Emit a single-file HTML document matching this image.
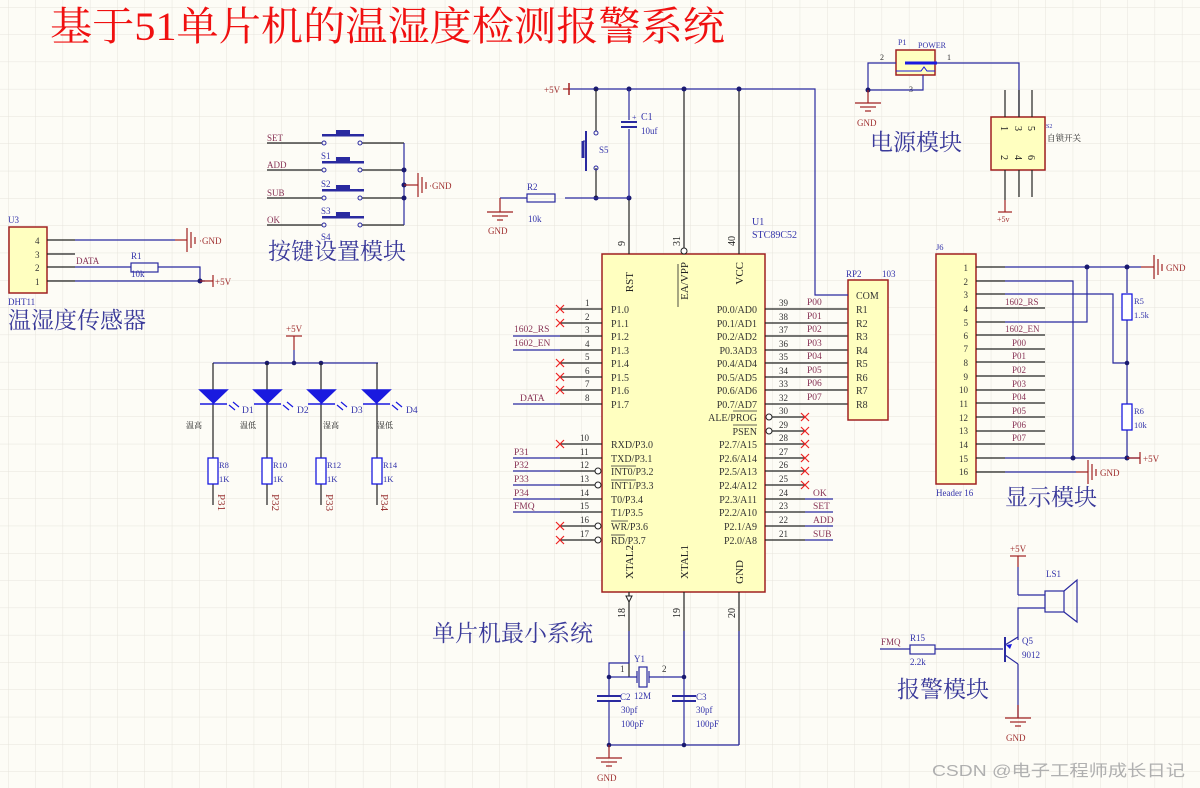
<!DOCTYPE html>
<html><head><meta charset="utf-8"><style>
html,body{margin:0;padding:0;background:#fdfcf6;}
svg{display:block;}
text{font-family:"Liberation Serif","Noto Serif CJK SC",serif;}
.cjk{font-family:"Liberation Serif","Noto Serif CJK SC",serif;}
</style></head><body>
<svg width="1200" height="788" viewBox="0 0 1200 788" xmlns="http://www.w3.org/2000/svg">
<defs>
<pattern id="g" x="8" y="7" width="27.3" height="27.3" patternUnits="userSpaceOnUse">
<path d="M0 0V27.3M0 0H27.3" stroke="#e6e4dc" stroke-width="1" fill="none"/>
</pattern>
</defs>
<rect width="1200" height="788" fill="#fdfcf6"/>
<rect width="1200" height="788" fill="url(#g)"/>

<!-- Title -->
<text x="50" y="40" font-size="40" fill="#f01010" textLength="675" lengthAdjust="spacingAndGlyphs">基于51单片机的温湿度检测报警系统</text>

<!-- ===== MCU ===== -->
<rect x="602" y="254" width="163" height="338" fill="#ffffc0" stroke="#a02020" stroke-width="1.5"/>
<g font-size="10" fill="#222" text-anchor="middle">
<text transform="translate(633,272) rotate(-90)" font-size="11" text-anchor="end">RST</text>
<text transform="translate(688,262) rotate(-90)" font-size="11" text-anchor="end">EA/VPP</text>
<text transform="translate(743,262) rotate(-90)" font-size="11" text-anchor="end">VCC</text>
<text transform="translate(633,545) rotate(-90)" font-size="11" text-anchor="end">XTAL2</text>
<text transform="translate(688,545) rotate(-90)" font-size="11" text-anchor="end">XTAL1</text>
<text transform="translate(743,560) rotate(-90)" font-size="11" text-anchor="end">GND</text>
</g>
<line x1="678" y1="264" x2="678" y2="307" stroke="#222" stroke-width="0.8"/>
<g stroke="#222" stroke-width="1.2">
<line x1="629" y1="198" x2="629" y2="254"/><line x1="684" y1="89" x2="684" y2="248"/><line x1="739" y1="89" x2="739" y2="254"/>
<line x1="629" y1="592" x2="629" y2="677"/><line x1="684" y1="592" x2="684" y2="677"/><line x1="739" y1="592" x2="739" y2="745"/>
</g>
<circle cx="684" cy="251" r="3" fill="#fff" stroke="#222"/>
<g font-size="10" fill="#222">
<text transform="translate(625,246) rotate(-90)">9</text>
<text transform="translate(680,246) rotate(-90)">31</text>
<text transform="translate(735,246) rotate(-90)">40</text>
<text transform="translate(625,618) rotate(-90)">18</text>
<text transform="translate(680,618) rotate(-90)">19</text>
<text transform="translate(735,618) rotate(-90)">20</text>
</g>
<text x="752" y="225" font-size="10" fill="#3333aa">U1</text>
<text x="752" y="238" font-size="10" fill="#3333aa">STC89C52</text>

<!-- left pins -->
<g stroke="#222" stroke-width="1.2">
<line x1="560" y1="309" x2="602" y2="309"/><line x1="560" y1="323" x2="602" y2="323"/>
<line x1="560" y1="336" x2="602" y2="336"/><line x1="560" y1="350" x2="602" y2="350"/>
<line x1="560" y1="363" x2="602" y2="363"/><line x1="560" y1="377" x2="602" y2="377"/>
<line x1="560" y1="390" x2="602" y2="390"/><line x1="560" y1="404" x2="602" y2="404"/>
<line x1="560" y1="444" x2="602" y2="444"/><line x1="560" y1="458" x2="602" y2="458"/>
<line x1="560" y1="471" x2="598" y2="471"/><line x1="560" y1="485" x2="598" y2="485"/>
<line x1="560" y1="499" x2="602" y2="499"/><line x1="560" y1="512" x2="602" y2="512"/>
<line x1="560" y1="526" x2="598" y2="526"/><line x1="560" y1="540" x2="598" y2="540"/>
</g>
<g fill="#fff" stroke="#222"><circle cx="598" cy="471" r="3"/><circle cx="598" cy="485" r="3"/><circle cx="598" cy="526" r="3"/><circle cx="598" cy="540" r="3"/></g>
<g font-size="9" fill="#333">
<text x="585" y="306">1</text><text x="585" y="320">2</text><text x="585" y="333">3</text><text x="585" y="347">4</text>
<text x="585" y="360">5</text><text x="585" y="374">6</text><text x="585" y="387">7</text><text x="585" y="401">8</text>
<text x="580" y="441">10</text><text x="580" y="455">11</text><text x="580" y="468">12</text><text x="580" y="482">13</text>
<text x="580" y="496">14</text><text x="580" y="509">15</text><text x="580" y="523">16</text><text x="580" y="537">17</text>
</g>
<g font-size="10" fill="#333">
<text x="611" y="313">P1.0</text><text x="611" y="327">P1.1</text><text x="611" y="340">P1.2</text><text x="611" y="354">P1.3</text>
<text x="611" y="367">P1.4</text><text x="611" y="381">P1.5</text><text x="611" y="394">P1.6</text><text x="611" y="408">P1.7</text>
<text x="611" y="448">RXD/P3.0</text><text x="611" y="462">TXD/P3.1</text><text x="611" y="475">INT0/P3.2</text><text x="611" y="489">INT1/P3.3</text>
<text x="611" y="503">T0/P3.4</text><text x="611" y="516">T1/P3.5</text><text x="611" y="530">WR/P3.6</text><text x="611" y="544">RD/P3.7</text>
</g>
<g stroke="#333" stroke-width="0.8"><line x1="611" y1="466" x2="636" y2="466"/><line x1="611" y1="480" x2="636" y2="480"/><line x1="611" y1="521" x2="628" y2="521"/><line x1="611" y1="535" x2="625" y2="535"/></g>
<g stroke="#ee2222" stroke-width="1.2">
<path d="M556 305l8 8M564 305l-8 8M556 319l8 8M564 319l-8 8M556 359l8 8M564 359l-8 8M556 373l8 8M564 373l-8 8M556 386l8 8M564 386l-8 8M556 440l8 8M564 440l-8 8M556 522l8 8M564 522l-8 8M556 536l8 8M564 536l-8 8"/>
</g>
<g stroke="#2a2aa0" stroke-width="1.2">
<line x1="513" y1="336" x2="560" y2="336"/><line x1="513" y1="350" x2="560" y2="350"/>
<line x1="513" y1="404" x2="560" y2="404"/><line x1="513" y1="458" x2="560" y2="458"/>
<line x1="513" y1="471" x2="560" y2="471"/><line x1="513" y1="485" x2="560" y2="485"/>
<line x1="513" y1="499" x2="560" y2="499"/><line x1="513" y1="512" x2="560" y2="512"/>
</g>
<g font-size="9.5" fill="#883355">
<text x="514" y="332">1602_RS</text><text x="514" y="346">1602_EN</text><text x="520" y="401">DATA</text>
<text x="514" y="455">P31</text><text x="514" y="468">P32</text><text x="514" y="482">P33</text><text x="514" y="496">P34</text><text x="514" y="509">FMQ</text>
</g>

<!-- right pins -->
<g stroke="#222" stroke-width="1.2">
<line x1="765" y1="309" x2="848" y2="309"/><line x1="765" y1="323" x2="848" y2="323"/>
<line x1="765" y1="336" x2="848" y2="336"/><line x1="765" y1="350" x2="848" y2="350"/>
<line x1="765" y1="363" x2="848" y2="363"/><line x1="765" y1="377" x2="848" y2="377"/>
<line x1="765" y1="390" x2="848" y2="390"/><line x1="765" y1="404" x2="848" y2="404"/>
<line x1="771" y1="417" x2="805" y2="417"/><line x1="771" y1="431" x2="805" y2="431"/>
<line x1="765" y1="444" x2="805" y2="444"/><line x1="765" y1="458" x2="805" y2="458"/>
<line x1="765" y1="471" x2="805" y2="471"/><line x1="765" y1="485" x2="805" y2="485"/>
<line x1="765" y1="499" x2="805" y2="499"/><line x1="765" y1="512" x2="805" y2="512"/>
<line x1="765" y1="526" x2="805" y2="526"/><line x1="765" y1="540" x2="805" y2="540"/>
</g>
<g fill="#fff" stroke="#222"><circle cx="769" cy="417" r="3"/><circle cx="769" cy="431" r="3"/></g>
<g stroke="#2a2aa0" stroke-width="1.2">
<line x1="805" y1="499" x2="833" y2="499"/><line x1="805" y1="512" x2="833" y2="512"/><line x1="805" y1="526" x2="833" y2="526"/><line x1="805" y1="540" x2="833" y2="540"/>
</g>
<g stroke="#ee2222" stroke-width="1.2">
<path d="M801 413l8 8M809 413l-8 8M801 427l8 8M809 427l-8 8M801 440l8 8M809 440l-8 8M801 454l8 8M809 454l-8 8M801 467l8 8M809 467l-8 8M801 481l8 8M809 481l-8 8"/>
</g>
<g font-size="9" fill="#333">
<text x="779" y="306">39</text><text x="779" y="320">38</text><text x="779" y="333">37</text><text x="779" y="347">36</text>
<text x="779" y="360">35</text><text x="779" y="374">34</text><text x="779" y="387">33</text><text x="779" y="401">32</text>
<text x="779" y="414">30</text><text x="779" y="428">29</text><text x="779" y="441">28</text><text x="779" y="455">27</text>
<text x="779" y="468">26</text><text x="779" y="482">25</text><text x="779" y="496">24</text><text x="779" y="509">23</text>
<text x="779" y="523">22</text><text x="779" y="537">21</text>
</g>
<g font-size="10" fill="#333" text-anchor="end">
<text x="757" y="313">P0.0/AD0</text><text x="757" y="327">P0.1/AD1</text><text x="757" y="340">P0.2/AD2</text><text x="757" y="354">P0.3AD3</text>
<text x="757" y="367">P0.4/AD4</text><text x="757" y="381">P0.5/AD5</text><text x="757" y="394">P0.6/AD6</text><text x="757" y="408">P0.7/AD7</text>
<text x="757" y="421">ALE/PROG</text><text x="757" y="435">PSEN</text>
<text x="757" y="448">P2.7/A15</text><text x="757" y="462">P2.6/A14</text><text x="757" y="475">P2.5/A13</text><text x="757" y="489">P2.4/A12</text>
<text x="757" y="503">P2.3/A11</text><text x="757" y="516">P2.2/A10</text><text x="757" y="530">P2.1/A9</text><text x="757" y="544">P2.0/A8</text>
</g>
<g stroke="#333" stroke-width="0.8"><line x1="733" y1="411" x2="757" y2="411"/><line x1="733" y1="425" x2="757" y2="425"/></g>
<g font-size="9.5" fill="#883355">
<text x="807" y="305">P00</text><text x="807" y="319">P01</text><text x="807" y="332">P02</text><text x="807" y="346">P03</text>
<text x="807" y="359">P04</text><text x="807" y="373">P05</text><text x="807" y="386">P06</text><text x="807" y="400">P07</text>
<text x="813" y="496">OK</text><text x="813" y="509">SET</text><text x="813" y="523">ADD</text><text x="813" y="537">SUB</text>
</g>

<!-- RP2 -->
<rect x="848" y="280" width="40" height="140" fill="#ffffc0" stroke="#a02020" stroke-width="1.5"/>
<g font-size="10" fill="#333">
<text x="856" y="299">COM</text><text x="856" y="313">R1</text><text x="856" y="327">R2</text><text x="856" y="340">R3</text>
<text x="856" y="354">R4</text><text x="856" y="367">R5</text><text x="856" y="381">R6</text><text x="856" y="394">R7</text><text x="856" y="408">R8</text>
</g>
<text x="846" y="277" font-size="9" fill="#3333aa">RP2</text><text x="882" y="277" font-size="9" fill="#3333aa">103</text>
<polyline points="570,89 815,89 815,295 848,295" fill="none" stroke="#2a2aa0" stroke-width="1.2"/>

<!-- top power/reset -->
<line x1="563" y1="89" x2="570" y2="89" stroke="#a02020" stroke-width="1.2"/>
<line x1="569" y1="83" x2="569" y2="95" stroke="#a02020" stroke-width="1.5"/>
<text x="544" y="93" font-size="9" fill="#a03030">+5V</text>
<g fill="#1a1a70"><circle cx="596" cy="89" r="2.5"/><circle cx="629" cy="89" r="2.5"/><circle cx="684" cy="89" r="2.5"/><circle cx="739" cy="89" r="2.5"/><circle cx="596" cy="198" r="2.5"/><circle cx="629" cy="198" r="2.5"/></g>
<g stroke="#222" stroke-width="1.2"><line x1="596" y1="89" x2="596" y2="131"/><line x1="596" y1="168" x2="596" y2="198"/></g>
<g stroke="#2a2aa0" stroke-width="1.2" fill="none">
<circle cx="596" cy="133" r="2" stroke-width="1"/><circle cx="596" cy="168" r="2" stroke-width="1"/>
<line x1="586" y1="131" x2="586" y2="171" stroke-width="2"/><line x1="586" y1="141" x2="583" y2="141" stroke-width="1"/>
<line x1="583" y1="141" x2="583" y2="158" stroke-width="3"/>
<line x1="629" y1="89" x2="629" y2="120"/><line x1="621" y1="122" x2="637" y2="122" stroke-width="2"/>
<line x1="621" y1="127" x2="637" y2="127" stroke-width="2"/><line x1="629" y1="129" x2="629" y2="198"/>
<line x1="565" y1="198" x2="629" y2="198"/>
<rect x="527" y="194" width="28" height="8"/><line x1="500" y1="198" x2="527" y2="198"/>
</g>
<text x="632" y="120" font-size="8" fill="#3333aa">+</text>
<text x="641" y="120" font-size="10" fill="#3333aa">C1</text><text x="641" y="134" font-size="9" fill="#3333aa">10uf</text>
<text x="599" y="153" font-size="9" fill="#3333aa">S5</text>
<text x="527" y="190" font-size="9" fill="#3333aa">R2</text><text x="528" y="222" font-size="9" fill="#3333aa">10k</text>
<g stroke="#a02020" stroke-width="1.2"><line x1="500" y1="198" x2="500" y2="212"/><line x1="487" y1="212" x2="513" y2="212"/><line x1="492" y1="216" x2="508" y2="216"/><line x1="497" y1="220" x2="503" y2="220"/></g>
<text x="488" y="234" font-size="9" fill="#a03030">GND</text>

<!-- ===== Buttons ===== -->
<g stroke="#222" stroke-width="1.2">
<line x1="267" y1="143" x2="322" y2="143"/><line x1="267" y1="170" x2="322" y2="170"/><line x1="267" y1="198" x2="322" y2="198"/><line x1="267" y1="225" x2="322" y2="225"/>
<line x1="362" y1="143" x2="404" y2="143"/><line x1="362" y1="170" x2="404" y2="170"/><line x1="362" y1="198" x2="404" y2="198"/><line x1="362" y1="225" x2="404" y2="225"/>
</g>
<g fill="none" stroke="#2a2aa0" stroke-width="1">
<circle cx="324" cy="143" r="2"/><circle cx="360" cy="143" r="2"/><circle cx="324" cy="170" r="2"/><circle cx="360" cy="170" r="2"/>
<circle cx="324" cy="198" r="2"/><circle cx="360" cy="198" r="2"/><circle cx="324" cy="225" r="2"/><circle cx="360" cy="225" r="2"/>
</g>
<g fill="#2a2aa0">
<rect x="322" y="134" width="42" height="2.5"/><rect x="336" y="130" width="14" height="5"/>
<rect x="322" y="161" width="42" height="2.5"/><rect x="336" y="157" width="14" height="5"/>
<rect x="322" y="189" width="42" height="2.5"/><rect x="336" y="185" width="14" height="5"/>
<rect x="322" y="216" width="42" height="2.5"/><rect x="336" y="212" width="14" height="5"/>
</g>
<polyline points="404,143 404,225" stroke="#2a2aa0" stroke-width="1.2"/>
<g fill="#1a1a70"><circle cx="404" cy="170" r="2.5"/><circle cx="404" cy="185" r="2.5"/><circle cx="404" cy="198" r="2.5"/></g>
<g stroke="#a02020" stroke-width="1.2"><line x1="404" y1="185" x2="418" y2="185"/><line x1="418" y1="173" x2="418" y2="197"/><line x1="422" y1="177" x2="422" y2="193"/><line x1="426" y1="182" x2="426" y2="189"/></g>
<text x="429" y="189" font-size="9" fill="#a03030">·GND</text>
<g font-size="9" fill="#883355"><text x="267" y="141">SET</text><text x="267" y="168">ADD</text><text x="267" y="196">SUB</text><text x="267" y="223">OK</text></g>
<g font-size="9" fill="#3333aa"><text x="321" y="159">S1</text><text x="321" y="187">S2</text><text x="321" y="214">S3</text><text x="321" y="240">S4</text></g>
<text x="268" y="259" font-size="23" fill="#3a3a9a" class="cjk">按键设置模块</text>

<!-- ===== DHT11 ===== -->
<rect x="9" y="227" width="38" height="66" fill="#ffffc0" stroke="#a02020" stroke-width="1.5"/>
<g font-size="9" fill="#333"><text x="35" y="244">4</text><text x="35" y="258">3</text><text x="35" y="271">2</text><text x="35" y="285">1</text></g>
<text x="8" y="223" font-size="9" fill="#3333aa">U3</text>
<text x="8" y="305" font-size="9" fill="#3333aa">DHT11</text>
<g stroke="#222" stroke-width="1.2"><line x1="47" y1="240" x2="75" y2="240"/><line x1="47" y1="254" x2="75" y2="254"/><line x1="47" y1="267" x2="75" y2="267"/><line x1="47" y1="281" x2="75" y2="281"/></g>
<g stroke="#2a2aa0" stroke-width="1.2" fill="none">
<line x1="75" y1="240" x2="175" y2="240"/><line x1="75" y1="267" x2="131" y2="267"/><rect x="131" y="263" width="27" height="9"/>
<polyline points="158,267 200,267 200,281"/><line x1="75" y1="281" x2="205" y2="281"/>
</g>
<circle cx="200" cy="281" r="2.5" fill="#1a1a70"/>
<g stroke="#a02020" stroke-width="1.2"><line x1="175" y1="240" x2="187" y2="240"/><line x1="187" y1="228" x2="187" y2="252"/><line x1="191" y1="232" x2="191" y2="248"/><line x1="195" y1="237" x2="195" y2="244"/>
<line x1="200" y1="281" x2="213" y2="281"/><line x1="213" y1="275" x2="213" y2="287"/></g>
<text x="199" y="244" font-size="9" fill="#a03030">·GND</text><text x="215" y="285" font-size="9" fill="#a03030">+5V</text>
<text x="76" y="264" font-size="9" fill="#883355">DATA</text>
<text x="131" y="259" font-size="9" fill="#3333aa">R1</text><text x="131" y="277" font-size="9" fill="#3333aa">10k</text>
<text x="8" y="328" font-size="23" fill="#3a3a9a" class="cjk">温湿度传感器</text>

<!-- ===== LEDs ===== -->
<g stroke="#a02020" stroke-width="1.2"><line x1="286" y1="336" x2="302" y2="336"/><line x1="294" y1="336" x2="294" y2="350"/></g>
<text x="286" y="332" font-size="9" fill="#a03030">+5V</text>
<g stroke="#2a2aa0" stroke-width="1.2" fill="none">
<line x1="294" y1="350" x2="294" y2="363"/><line x1="213" y1="363" x2="378" y2="363"/>
</g>
<g fill="#1a1a70"><circle cx="267" cy="363" r="2.3"/><circle cx="294" cy="363" r="2.3"/><circle cx="321" cy="363" r="2.3"/></g>
<g stroke="#222" stroke-width="1.2">
<line x1="213" y1="363" x2="213" y2="505"/><line x1="267" y1="363" x2="267" y2="505"/><line x1="321" y1="363" x2="321" y2="505"/><line x1="377" y1="363" x2="377" y2="505"/>
</g>
<g fill="#1a1adf" stroke="#1a1adf" stroke-width="1.5">
<path d="M200 390h27l-13.5 13z"/><line x1="200" y1="404" x2="227" y2="404"/>
<path d="M254 390h27l-13.5 13z"/><line x1="254" y1="404" x2="281" y2="404"/>
<path d="M308 390h27l-13.5 13z"/><line x1="308" y1="404" x2="335" y2="404"/>
<path d="M363 390h27l-13.5 13z"/><line x1="363" y1="404" x2="390" y2="404"/>
</g>
<g stroke="#1a1adf" stroke-width="1.2">
<path d="M229 405l6 5M233 402l6 5M283 405l6 5M287 402l6 5M337 405l6 5M341 402l6 5M392 405l6 5M396 402l6 5"/>
</g>
<g font-size="9.5" fill="#3333aa"><text x="242" y="413">D1</text><text x="297" y="413">D2</text><text x="351" y="413">D3</text><text x="406" y="413">D4</text></g>
<g font-size="8" fill="#222" class="cjk"><text x="186" y="428">温高</text><text x="240" y="428">温低</text><text x="323" y="428">湿高</text><text x="377" y="428">湿低</text></g>
<g fill="#fff" stroke="#1a1adf" stroke-width="1.3">
<rect x="208" y="458" width="10" height="26"/><rect x="262" y="458" width="10" height="26"/><rect x="316" y="458" width="10" height="26"/><rect x="372" y="458" width="10" height="26"/>
</g>
<g font-size="8.5" fill="#3333aa"><text x="219" y="468">R8</text><text x="219" y="482">1K</text><text x="273" y="468">R10</text><text x="273" y="482">1K</text>
<text x="327" y="468">R12</text><text x="327" y="482">1K</text><text x="383" y="468">R14</text><text x="383" y="482">1K</text></g>
<g font-size="11" fill="#993333">
<text transform="translate(218,494) rotate(90)">P31</text><text transform="translate(272,494) rotate(90)">P32</text>
<text transform="translate(326,494) rotate(90)">P33</text><text transform="translate(381,494) rotate(90)">P34</text>
</g>

<!-- ===== Power module ===== -->
<rect x="896" y="50" width="39" height="25" fill="#ffffc0" stroke="#a02020" stroke-width="1.5"/>
<line x1="905" y1="63" x2="937" y2="63" stroke="#1a1adf" stroke-width="3"/>
<polyline points="896,71 921,71 924,67 927,71 935,71" fill="none" stroke="#1a1adf" stroke-width="1"/>
<text x="898" y="45" font-size="8" fill="#3333aa">P1</text><text x="918" y="48" font-size="8" fill="#3333aa">POWER</text>
<text x="880" y="60" font-size="8" fill="#333">2</text><text x="947" y="60" font-size="8" fill="#333">1</text><text x="909" y="92" font-size="8" fill="#333">3</text>
<g stroke="#2a2aa0" stroke-width="1.2" fill="none">
<polyline points="896,63 868,63 868,90 923,90 923,75"/>
<polyline points="937,63 1019,63 1019,117"/>
</g>
<circle cx="868" cy="90" r="2.5" fill="#1a1a70"/>
<g stroke="#a02020" stroke-width="1.2"><line x1="868" y1="90" x2="868" y2="103"/><line x1="855" y1="103" x2="881" y2="103"/><line x1="860" y1="107" x2="876" y2="107"/><line x1="865" y1="111" x2="871" y2="111"/></g>
<text x="857" y="126" font-size="9" fill="#a03030">GND</text>
<rect x="991" y="117" width="54" height="53" fill="#ffffc0" stroke="#a02020" stroke-width="1.5"/>
<g stroke="#222" stroke-width="1.2"><line x1="1005" y1="90" x2="1005" y2="117"/><line x1="1019" y1="117" x2="1019" y2="90"/><line x1="1032" y1="90" x2="1032" y2="117"/>
<line x1="1005" y1="170" x2="1005" y2="200"/><line x1="1019" y1="170" x2="1019" y2="197"/><line x1="1032" y1="170" x2="1032" y2="197"/></g>
<g font-size="10" fill="#222">
<text transform="translate(1001,126) rotate(90)">1</text><text transform="translate(1015,126) rotate(90)">3</text><text transform="translate(1028,126) rotate(90)">5</text>
<text transform="translate(1001,155) rotate(90)">2</text><text transform="translate(1015,155) rotate(90)">4</text><text transform="translate(1028,155) rotate(90)">6</text>
</g>
<text x="1046" y="128" font-size="6" fill="#3333aa">S2</text>
<text x="1047" y="141" font-size="8.5" fill="#222" class="cjk">自锁开关</text>
<g stroke="#a02020" stroke-width="1.2"><line x1="1005" y1="200" x2="1005" y2="212"/><line x1="998" y1="212" x2="1012" y2="212"/></g>
<text x="997" y="222" font-size="8" fill="#a03030">+5v</text>
<text x="870" y="150" font-size="23" fill="#3a3a9a" class="cjk">电源模块</text>

<!-- ===== J6 ===== -->
<rect x="936" y="254" width="40" height="230" fill="#ffffc0" stroke="#a02020" stroke-width="1.5"/>
<g font-size="9" fill="#333" text-anchor="end">
<text x="968" y="271">1</text><text x="968" y="285">2</text><text x="968" y="298">3</text><text x="968" y="312">4</text>
<text x="968" y="326">5</text><text x="968" y="339">6</text><text x="968" y="352">7</text><text x="968" y="366">8</text>
<text x="968" y="380">9</text><text x="968" y="393">10</text><text x="968" y="407">11</text><text x="968" y="421">12</text>
<text x="968" y="434">13</text><text x="968" y="448">14</text><text x="968" y="462">15</text><text x="968" y="475">16</text>
</g>
<text x="936" y="250" font-size="8.5" fill="#3333aa">J6</text>
<text x="936" y="496" font-size="9" fill="#3333aa">Header 16</text>
<g stroke="#222" stroke-width="1.2">
<line x1="976" y1="267" x2="1005" y2="267"/><line x1="976" y1="281" x2="1005" y2="281"/><line x1="976" y1="294" x2="1005" y2="294"/>
<line x1="976" y1="308" x2="1045" y2="308"/><line x1="976" y1="322" x2="1005" y2="322"/><line x1="976" y1="335" x2="1045" y2="335"/>
<line x1="976" y1="349" x2="1045" y2="349"/><line x1="976" y1="362" x2="1045" y2="362"/><line x1="976" y1="376" x2="1045" y2="376"/>
<line x1="976" y1="390" x2="1045" y2="390"/><line x1="976" y1="403" x2="1045" y2="403"/><line x1="976" y1="417" x2="1045" y2="417"/>
<line x1="976" y1="431" x2="1045" y2="431"/><line x1="976" y1="444" x2="1045" y2="444"/>
<line x1="976" y1="458" x2="1005" y2="458"/><line x1="976" y1="472" x2="1005" y2="472"/>
</g>
<g font-size="9" fill="#883355">
<text x="1005" y="305">1602_RS</text><text x="1005" y="332">1602_EN</text><text x="1012" y="346">P00</text><text x="1012" y="359">P01</text>
<text x="1012" y="373">P02</text><text x="1012" y="387">P03</text><text x="1012" y="400">P04</text><text x="1012" y="414">P05</text>
<text x="1012" y="428">P06</text><text x="1012" y="441">P07</text>
</g>
<g stroke="#2a2aa0" stroke-width="1.2" fill="none">
<line x1="1005" y1="267" x2="1141" y2="267"/>
<polyline points="1005,281 1073,281 1073,458"/>
<polyline points="1005,294 1113,294 1113,363 1127,363"/>
<polyline points="1005,322 1087,322 1087,267"/>
<line x1="1005" y1="458" x2="1140" y2="458"/>
<line x1="1005" y1="472" x2="1076" y2="472"/>
<line x1="1127" y1="267" x2="1127" y2="293"/><line x1="1127" y1="320" x2="1127" y2="404"/><line x1="1127" y1="430" x2="1127" y2="458"/>
</g>
<g fill="#fff" stroke="#1a1adf" stroke-width="1.3"><rect x="1122" y="294" width="10" height="26"/><rect x="1122" y="404" width="10" height="26"/></g>
<g font-size="8.5" fill="#3333aa"><text x="1134" y="304">R5</text><text x="1134" y="318">1.5k</text><text x="1134" y="414">R6</text><text x="1134" y="428">10k</text></g>
<g fill="#1a1a70"><circle cx="1087" cy="267" r="2.5"/><circle cx="1127" cy="267" r="2.5"/><circle cx="1127" cy="363" r="2.3"/><circle cx="1073" cy="458" r="2.5"/><circle cx="1127" cy="458" r="2.5"/></g>
<g stroke="#a02020" stroke-width="1.2">
<line x1="1141" y1="267" x2="1154" y2="267"/><line x1="1154" y1="255" x2="1154" y2="279"/><line x1="1158" y1="259" x2="1158" y2="275"/><line x1="1162" y1="264" x2="1162" y2="271"/>
<line x1="1127" y1="458" x2="1140" y2="458"/><line x1="1140" y1="452" x2="1140" y2="464"/>
<line x1="1076" y1="472" x2="1088" y2="472"/><line x1="1088" y1="460" x2="1088" y2="484"/><line x1="1092" y1="464" x2="1092" y2="480"/><line x1="1096" y1="469" x2="1096" y2="476"/>
</g>
<text x="1166" y="271" font-size="9" fill="#a03030">GND</text>
<text x="1143" y="462" font-size="9" fill="#a03030">+5V</text>
<text x="1100" y="476" font-size="9" fill="#a03030">GND</text>
<text x="1005" y="505" font-size="23" fill="#3a3a9a" class="cjk">显示模块</text>

<!-- ===== Crystal ===== -->
<polygon points="626,596 632,596 629,602" fill="#fff" stroke="#222"/>
<g stroke="#2a2aa0" stroke-width="1.2" fill="none">
<polyline points="629,631 629,663 609,663 609,677 637,677"/>
<line x1="649" y1="677" x2="684" y2="677"/><line x1="684" y1="631" x2="684" y2="745"/>
<line x1="609" y1="677" x2="609" y2="696"/><line x1="609" y1="701" x2="609" y2="745"/>
<line x1="739" y1="631" x2="739" y2="745"/><line x1="609" y1="745" x2="739" y2="745"/>
<rect x="639" y="667" width="8" height="20"/><line x1="637" y1="671" x2="637" y2="683"/><line x1="649" y1="671" x2="649" y2="683"/>
<line x1="597" y1="696" x2="621" y2="696" stroke-width="2"/><line x1="597" y1="701" x2="621" y2="701" stroke-width="2"/>
<line x1="672" y1="696" x2="696" y2="696" stroke-width="2"/><line x1="672" y1="701" x2="696" y2="701" stroke-width="2"/>
</g>
<g fill="#1a1a70"><circle cx="609" cy="677" r="2.3"/><circle cx="684" cy="677" r="2.3"/><circle cx="609" cy="745" r="2.3"/><circle cx="684" cy="745" r="2.3"/></g>
<g font-size="9" fill="#3333aa">
<text x="634" y="662">Y1</text><text x="620" y="672" fill="#333">1</text><text x="662" y="672" fill="#333">2</text><text x="634" y="699">12M</text>
<text x="620" y="700">C2</text><text x="621" y="713">30pf</text><text x="621" y="727">100pF</text>
<text x="696" y="700">C3</text><text x="696" y="713">30pf</text><text x="696" y="727">100pF</text>
</g>
<g stroke="#a02020" stroke-width="1.2"><line x1="609" y1="745" x2="609" y2="758"/><line x1="596" y1="758" x2="622" y2="758"/><line x1="601" y1="762" x2="617" y2="762"/><line x1="606" y1="766" x2="612" y2="766"/></g>
<text x="597" y="781" font-size="9" fill="#a03030">GND</text>
<text x="432" y="641" font-size="23" fill="#3a3a9a" class="cjk">单片机最小系统</text>

<!-- ===== Buzzer ===== -->
<g stroke="#a02020" stroke-width="1.2"><line x1="1010" y1="556" x2="1026" y2="556"/><line x1="1018" y1="556" x2="1018" y2="567"/></g>
<text x="1010" y="552" font-size="9" fill="#a03030">+5V</text>
<g stroke="#2a2aa0" stroke-width="1.2" fill="none">
<line x1="1018" y1="567" x2="1018" y2="595"/><line x1="1018" y1="595" x2="1045" y2="595"/>
<polyline points="1018,640 1018,608 1045,608"/>
<rect x="1045" y="591" width="19" height="21"/><polyline points="1064,591 1077,580 1077,622 1064,612"/>
<line x1="880" y1="649" x2="910" y2="649"/><rect x="910" y="645" width="25" height="9"/><line x1="935" y1="649" x2="1003" y2="649"/>
<line x1="1005" y1="637" x2="1005" y2="662" stroke-width="2"/>
<line x1="1005" y1="645" x2="1018" y2="637"/><line x1="1005" y1="655" x2="1018" y2="664"/>
<line x1="1018" y1="664" x2="1018" y2="718"/>
</g>
<path d="M1006 645l6-1-2 5z" fill="#1a1adf"/>
<g font-size="9" fill="#3333aa"><text x="1046" y="577">LS1</text><text x="1022" y="644">Q5</text><text x="1022" y="658">9012</text>
<text x="910" y="641">R15</text><text x="910" y="665">2.2k</text></g>
<text x="881" y="645" font-size="9" fill="#883355">FMQ</text>
<g stroke="#a02020" stroke-width="1.2"><line x1="1018" y1="705" x2="1018" y2="718"/><line x1="1005" y1="718" x2="1031" y2="718"/><line x1="1010" y1="722" x2="1026" y2="722"/><line x1="1015" y1="726" x2="1021" y2="726"/></g>
<text x="1006" y="741" font-size="9" fill="#a03030">GND</text>
<text x="897" y="697" font-size="23" fill="#3a3a9a" class="cjk">报警模块</text>

<!-- watermark -->
<text x="932" y="776" font-size="16" fill="#b0b0b0" textLength="253" lengthAdjust="spacingAndGlyphs" style="font-family:'Liberation Sans','Noto Sans CJK SC',sans-serif">CSDN @电子工程师成长日记</text>
</svg>
</body></html>
